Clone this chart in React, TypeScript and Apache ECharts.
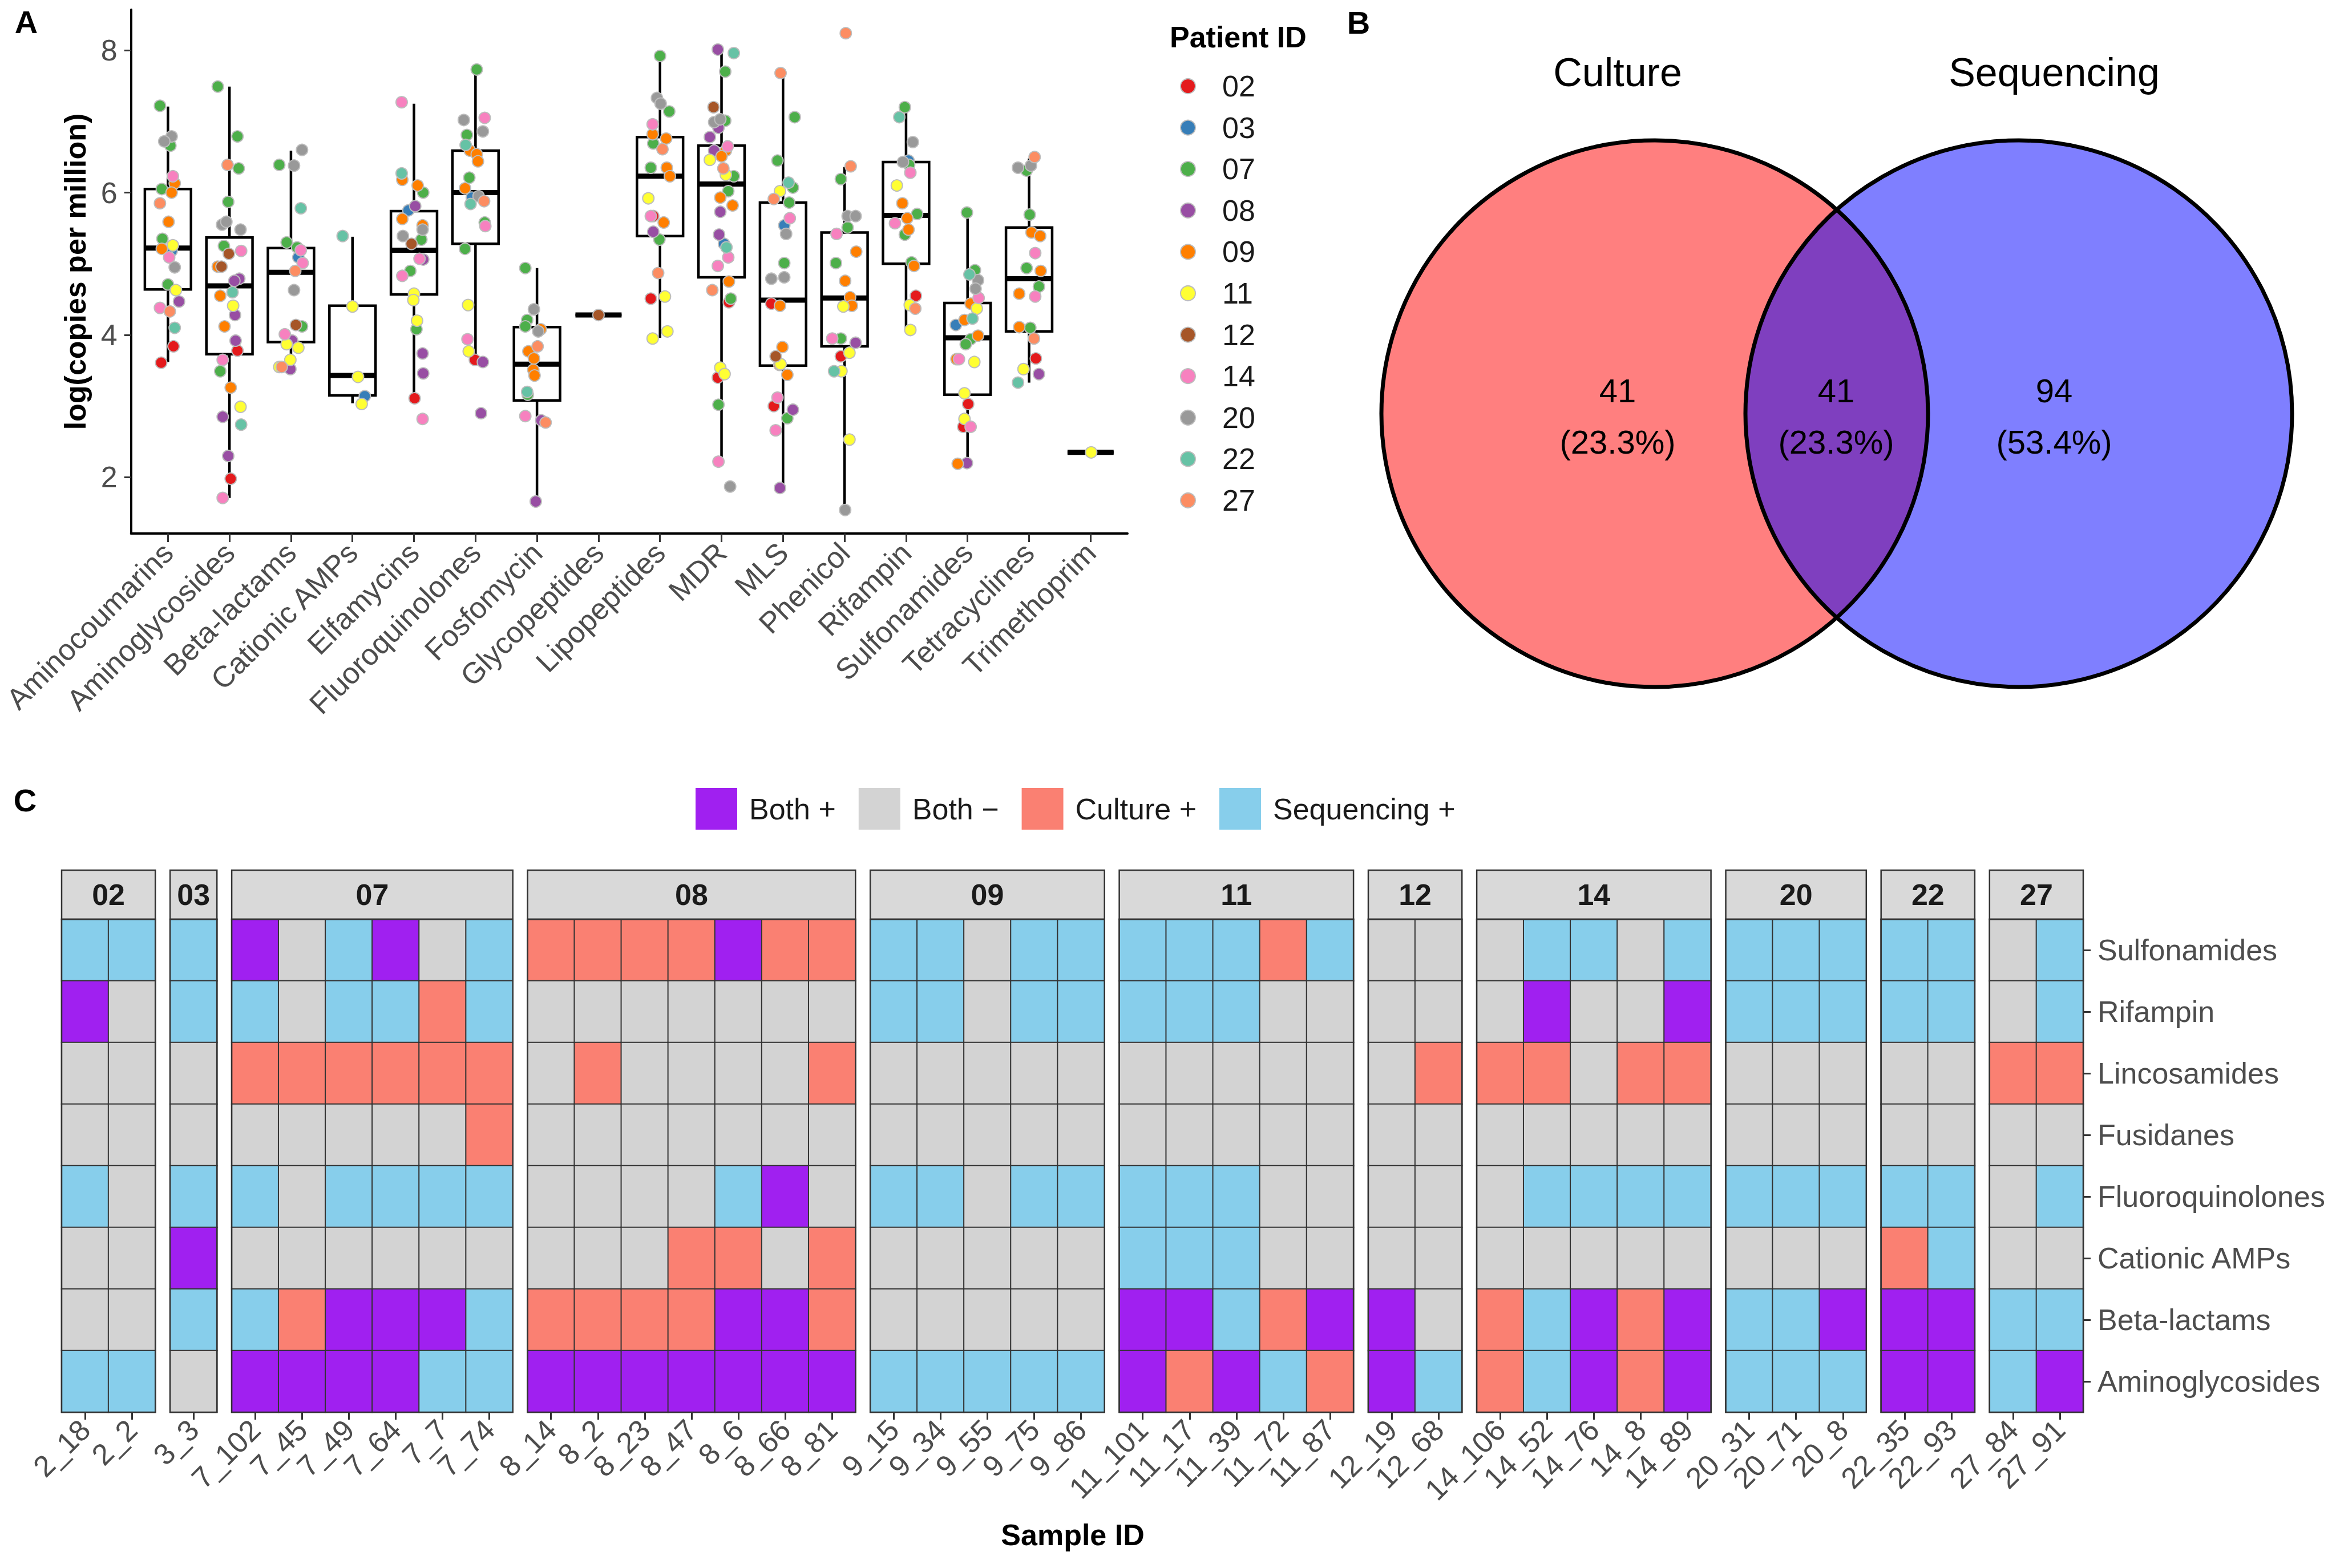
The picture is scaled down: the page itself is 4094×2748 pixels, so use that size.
import React, { useEffect, useRef } from "react";
import * as echarts from "echarts";

const W = 4094;
const H = 2748;
const FONT = "'Liberation Sans', Arial, Helvetica, sans-serif";

// ---------- Panel A data ----------
const DRUG_CLASSES = [
  "Aminocoumarins", "Aminoglycosides", "Beta-lactams", "Cationic AMPs", "Elfamycins",
  "Fluoroquinolones", "Fosfomycin", "Glycopeptides", "Lipopeptides", "MDR", "MLS",
  "Phenicol", "Rifampin", "Sulfonamides", "Tetracyclines", "Trimethoprim",
];
const Y_TICKS = [2, 4, 6, 8];
const PATIENTS = ["02", "03", "07", "08", "09", "11", "12", "14", "20", "22", "27"];
const PATIENT_COLORS = [
  "#E41A1C", "#377EB8", "#4DAF4A", "#984EA3", "#FF7F00", "#FFFF33",
  "#A65628", "#F781BF", "#999999", "#66C2A5", "#FC8D62",
];
// [min, q1, median, q3, max] per drug class
const BOX_STATS = [
  [3.62, 4.64, 5.22, 6.05, 7.21],
  [1.71, 3.73, 4.69, 5.37, 7.49],
  [3.54, 3.90, 4.88, 5.22, 6.59],
  [3.04, 3.15, 3.43, 4.41, 5.38],
  [3.10, 4.57, 5.19, 5.74, 7.25],
  [3.66, 5.28, 6.00, 6.59, 7.72],
  [1.67, 3.08, 3.59, 4.11, 4.94],
  [4.28, 4.28, 4.28, 4.28, 4.28],
  [3.96, 5.39, 6.23, 6.78, 7.91],
  [2.23, 4.81, 6.12, 6.66, 8.00],
  [1.85, 3.57, 4.49, 5.86, 7.67],
  [1.55, 3.84, 4.52, 5.44, 6.36],
  [4.08, 5.00, 5.68, 6.43, 7.18],
  [2.20, 3.16, 3.96, 4.45, 5.71],
  [3.33, 4.05, 4.79, 5.51, 6.48],
  [2.35, 2.35, 2.35, 2.35, 2.35],
];
// [class index, patient, log(copies per million), horizontal jitter]
const POINTS: [number, string, number, number][] = [
  [0,"07",7.22,-0.13],[0,"20",6.79,0.06],[0,"20",6.72,-0.06],[0,"07",6.66,0.04],[0,"14",6.23,0.08],[0,"09",6.13,0.11],[0,"07",6.05,-0.10],[0,"09",6.00,0.06],[0,"27",5.85,-0.13],[0,"09",5.59,0.01],[0,"07",5.35,-0.09],[0,"11",5.26,0.08],[0,"09",5.21,-0.10],[0,"03",5.18,0.06],[0,"14",5.09,0.02],[0,"20",4.95,0.11],[0,"07",4.71,0],[0,"11",4.63,0.13],[0,"08",4.47,0.18],[0,"14",4.38,-0.13],[0,"27",4.33,0.03],[0,"22",4.10,0.11],[0,"02",3.84,0.09],[0,"02",3.61,-0.11],
  [1,"07",7.49,-0.19],[1,"07",6.79,0.13],[1,"27",6.39,-0.03],[1,"07",6.34,0.15],[1,"07",5.87,-0.02],[1,"20",5.55,-0.12],[1,"20",5.59,-0.05],[1,"20",5.48,0.18],[1,"07",5.25,-0.09],[1,"12",5.14,-0.01],[1,"14",5.18,0.19],[1,"09",4.96,-0.19],[1,"12",4.96,-0.13],[1,"08",4.79,0.16],[1,"08",4.76,0.08],[1,"22",4.60,0.05],[1,"09",4.55,-0.15],[1,"11",4.41,0.06],[1,"08",4.28,0.09],[1,"09",4.12,-0.08],[1,"08",3.92,0.10],[1,"02",3.78,0.13],[1,"14",3.65,-0.11],[1,"07",3.49,-0.15],[1,"09",3.26,0.02],[1,"11",2.99,0.18],[1,"08",2.85,-0.11],[1,"22",2.74,0.19],[1,"08",2.30,-0.02],[1,"02",1.98,0.02],[1,"14",1.71,-0.11],
  [2,"20",6.60,0.18],[2,"07",6.39,-0.19],[2,"20",6.38,0.05],[2,"22",5.78,0.16],[2,"07",5.30,-0.07],[2,"07",5.23,0.10],[2,"14",5.19,0.16],[2,"03",5.09,0.12],[2,"14",5.01,0.19],[2,"27",4.90,0.07],[2,"20",4.63,0.05],[2,"12",4.14,0.08],[2,"07",4.12,0.18],[2,"14",4.01,-0.10],[2,"08",3.92,0.02],[2,"11",3.87,-0.07],[2,"11",3.82,0.12],[2,"11",3.65,-0.01],[2,"27",3.55,-0.15],[2,"11",3.55,-0.19],[2,"08",3.52,-0.01],
  [3,"22",5.39,-0.16],[3,"11",4.40,0],[3,"11",3.41,0.09],[3,"03",3.14,0.20],[3,"11",3.03,0.15],
  [4,"14",7.27,-0.20],[4,"22",6.27,-0.20],[4,"09",6.18,-0.19],[4,"09",6.10,0.06],[4,"07",6.00,0.15],[4,"08",5.81,0.02],[4,"03",5.75,-0.09],[4,"09",5.63,-0.19],[4,"09",5.54,0.14],[4,"20",5.48,0.14],[4,"20",5.39,-0.18],[4,"07",5.34,0.12],[4,"12",5.28,-0.04],[4,"14",5.07,0.09],[4,"08",5.06,0.15],[4,"07",4.90,-0.06],[4,"14",4.83,-0.19],[4,"11",4.58,0],[4,"11",4.49,-0.01],[4,"11",4.20,0.05],[4,"07",4.08,0.04],[4,"08",3.74,0.14],[4,"08",3.46,0.15],[4,"02",3.11,0.01],[4,"14",2.82,0.14],
  [5,"07",7.73,0.02],[5,"20",7.02,-0.19],[5,"14",7.05,0.15],[5,"20",6.86,0.12],[5,"07",6.81,-0.14],[5,"22",6.67,-0.16],[5,"09",6.59,-0.09],[5,"09",6.54,0.02],[5,"09",6.44,0.04],[5,"07",6.21,-0.10],[5,"09",6.06,-0.17],[5,"03",5.93,-0.06],[5,"20",5.95,0.05],[5,"27",5.88,0.14],[5,"22",5.84,-0.08],[5,"07",5.58,0.15],[5,"14",5.53,0.16],[5,"07",5.21,-0.17],[5,"11",4.42,-0.12],[5,"14",3.94,-0.13],[5,"11",3.77,-0.11],[5,"02",3.65,-0.01],[5,"08",3.62,0.12],[5,"08",2.90,0.09],
  [6,"07",4.94,-0.19],[6,"20",4.36,-0.05],[6,"07",4.21,-0.16],[6,"07",4.12,-0.19],[6,"09",4.08,0.06],[6,"20",4.05,0.02],[6,"27",3.84,0.01],[6,"09",3.77,-0.14],[6,"09",3.67,-0.05],[6,"09",3.51,-0.06],[6,"09",3.43,-0.04],[6,"22",3.20,-0.16],[6,"07",3.16,-0.15],[6,"14",2.86,-0.19],[6,"08",2.80,0.07],[6,"27",2.77,0.14],[6,"08",1.66,-0.02],
  [7,"12",4.28,0],
  [8,"07",7.92,0],[8,"20",7.33,-0.05],[8,"20",7.25,0.01],[8,"07",7.14,0.15],[8,"14",6.96,-0.12],[8,"09",6.82,-0.12],[8,"09",6.76,0.10],[8,"07",6.69,-0.11],[8,"27",6.61,0.04],[8,"07",6.35,-0.15],[8,"09",6.35,0.11],[8,"09",6.23,0.16],[8,"11",5.92,-0.19],[8,"14",5.67,-0.15],[8,"02",5.67,-0.11],[8,"09",5.58,0.06],[8,"08",5.45,-0.11],[8,"07",5.34,-0.01],[8,"27",4.87,-0.03],[8,"02",4.51,-0.15],[8,"11",4.54,0.08],[8,"11",4.05,0.12],[8,"11",3.95,-0.12],
  [9,"08",8.01,-0.06],[9,"22",7.96,0.20],[9,"07",7.70,0.06],[9,"12",7.20,-0.13],[9,"20",6.99,-0.12],[9,"20",7.03,-0.02],[9,"07",7.01,0.06],[9,"08",6.91,-0.05],[9,"08",6.78,-0.19],[9,"08",6.59,-0.12],[9,"09",6.59,0.07],[9,"09",6.51,0],[9,"11",6.46,-0.19],[9,"14",6.65,0.10],[9,"27",6.34,0.03],[9,"11",6.25,0.07],[9,"07",6.23,0.20],[9,"07",6.02,0.11],[9,"09",5.93,-0.02],[9,"09",5.82,0.18],[9,"08",5.73,-0.02],[9,"08",5.41,-0.04],[9,"03",5.28,0.04],[9,"22",5.23,0.08],[9,"14",5.09,0.11],[9,"14",4.97,-0.06],[9,"09",4.75,0.12],[9,"27",4.63,-0.15],[9,"07",4.51,0.15],[9,"02",4.46,0.12],[9,"11",3.54,-0.02],[9,"11",3.45,0.05],[9,"02",3.40,-0.06],[9,"07",3.02,-0.05],[9,"14",2.22,-0.05],[9,"20",1.87,0.14],
  [10,"27",7.68,-0.04],[10,"07",7.06,0.19],[10,"07",6.45,-0.09],[10,"22",6.14,0.09],[10,"07",6.07,0.16],[10,"11",6.02,-0.05],[10,"27",5.91,-0.15],[10,"07",5.86,0.10],[10,"14",5.64,0.11],[10,"03",5.54,0.02],[10,"20",5.42,0.05],[10,"07",5.01,0.02],[10,"20",4.79,-0.19],[10,"20",4.81,0.02],[10,"02",4.44,-0.19],[10,"09",4.41,-0.05],[10,"09",3.83,-0.01],[10,"12",3.70,-0.12],[10,"11",3.59,-0.04],[10,"09",3.58,-0.06],[10,"09",3.44,0.07],[10,"14",3.12,-0.09],[10,"02",3.00,-0.15],[10,"08",2.95,0.16],[10,"07",2.83,0.07],[10,"14",2.66,-0.12],[10,"08",1.85,-0.05],
  [11,"27",8.24,0.02],[11,"27",6.37,0.10],[11,"07",6.19,-0.06],[11,"20",5.67,0.05],[11,"20",5.67,0.18],[11,"07",5.51,0.05],[11,"14",5.42,-0.13],[11,"09",5.17,0.19],[11,"07",5.01,-0.14],[11,"09",4.76,0.01],[11,"09",4.53,0.09],[11,"11",4.40,-0.02],[11,"09",4.41,0.12],[11,"14",3.95,-0.20],[11,"07",3.95,-0.06],[11,"08",3.89,0.18],[11,"11",3.75,0.08],[11,"02",3.70,-0.06],[11,"22",3.49,-0.17],[11,"11",3.49,-0.05],[11,"11",2.53,0.08],[11,"20",1.54,0.01],
  [12,"07",7.20,-0.02],[12,"22",7.06,-0.11],[12,"20",6.71,0.11],[12,"20",6.43,-0.05],[12,"03",6.45,0.04],[12,"07",6.39,0.05],[12,"14",6.28,0.07],[12,"11",6.10,-0.15],[12,"09",5.85,-0.06],[12,"07",5.70,0.18],[12,"09",5.64,0.02],[12,"14",5.57,-0.18],[12,"09",5.48,0.04],[12,"07",5.41,-0.02],[12,"07",5.02,0.09],[12,"09",4.97,0.13],[12,"02",4.55,0.16],[12,"11",4.42,0.06],[12,"27",4.37,0.15],[12,"11",4.07,0.07],
  [13,"07",5.72,-0.01],[13,"07",4.91,0.12],[13,"22",4.85,0.03],[13,"20",4.77,0.17],[13,"20",4.65,0.13],[13,"14",4.52,0.18],[13,"09",4.44,0.05],[13,"11",4.37,0.15],[13,"22",4.23,0.08],[13,"09",4.21,-0.05],[13,"03",4.14,-0.19],[13,"09",3.99,0.17],[13,"07",3.94,0.05],[13,"07",3.87,-0.03],[13,"09",3.66,-0.18],[13,"14",3.66,-0.14],[13,"11",3.62,0.11],[13,"11",3.18,-0.05],[13,"02",3.03,0.01],[13,"11",2.82,-0.05],[13,"02",2.71,-0.07],[13,"14",2.71,0.05],[13,"09",2.19,-0.16],[13,"08",2.20,-0.01],
  [14,"27",6.50,0.09],[14,"20",6.35,-0.18],[14,"20",6.38,0.03],[14,"07",6.31,-0.04],[14,"07",5.69,0.01],[14,"09",5.44,0.04],[14,"09",5.39,0.18],[14,"14",5.15,0.10],[14,"07",4.94,-0.04],[14,"09",4.90,0.19],[14,"07",4.68,0.16],[14,"09",4.58,-0.16],[14,"14",4.54,0.10],[14,"09",4.11,-0.16],[14,"07",4.10,0.02],[14,"27",3.95,0.08],[14,"02",3.67,0.11],[14,"11",3.52,-0.09],[14,"08",3.45,0.16],[14,"22",3.33,-0.18],
  [15,"11",2.35,0.01],
];

// ---------- Panel B data ----------
const VENN_SETS = ["Culture", "Sequencing"];
const VENN_COUNTS = [41, 41, 94]; // culture only, both, sequencing only

// ---------- Panel C data ----------
const RESIST_CLASSES = [
  "Sulfonamides", "Rifampin", "Lincosamides", "Fusidanes",
  "Fluoroquinolones", "Cationic AMPs", "Beta-lactams", "Aminoglycosides",
];
const STATUS_CODES = ["B", "N", "C", "S"];
const STATUS_LABELS = ["Both +", "Both \u2212", "Culture +", "Sequencing +"];
const STATUS_COLORS = ["#A020F0", "#D3D3D3", "#FA8072", "#87CEEB"];
const FACET_PATIENTS = ["02", "03", "07", "08", "09", "11", "12", "14", "20", "22", "27"];
const FACET_SAMPLES = [
  ["2_18", "2_2"],
  ["3_3"],
  ["7_102", "7_45", "7_49", "7_64", "7_7", "7_74"],
  ["8_14", "8_2", "8_23", "8_47", "8_6", "8_66", "8_81"],
  ["9_15", "9_34", "9_55", "9_75", "9_86"],
  ["11_101", "11_17", "11_39", "11_72", "11_87"],
  ["12_19", "12_68"],
  ["14_106", "14_52", "14_76", "14_8", "14_89"],
  ["20_31", "20_71", "20_8"],
  ["22_35", "22_93"],
  ["27_84", "27_91"],
];
// one string per sample, rows top to bottom as in RESIST_CLASSES
const FACET_CALLS = [
  ["SBNNSNNS", "SNNNNNNS"],
  ["SSNNSBSN"],
  ["BSCNSNSB", "NNCNNNCB", "SSCNSNBB", "BSCNSNBB", "NCCNSNBS", "SSCCSNSS"],
  ["CNNNNNCB", "CNCNNNCB", "CNNNNNCB", "CNNNNCCB", "BNNNSCBB", "CNNNBNBB", "CNCNNCCB"],
  ["SSNNSNNS", "SSNNSNNS", "NNNNNNNS", "SSNNSNNS", "SSNNSNNS"],
  ["SSNNSSBB", "SSNNSSBC", "SSNNSSSB", "CNNNNNCS", "SNNNNNBC"],
  ["NNNNNNBB", "NNCNNNNS"],
  ["NNCNNNCC", "SBCNSNSS", "SNNNSNBB", "NNCNSNCC", "SBCNSNBB"],
  ["SSNNSNSS", "SSNNSNSS", "SSNNSNBS"],
  ["SSNNSCBB", "SSNNSSBB"],
  ["NNCNNNSS", "SSCNSNSB"],
];

// ---------- layout ----------
const A_LEFT = 219, A_TOP = 17, A_W = 1757, A_H = 918;
const BOX_WIDTH = 0.75;
const HM_LEFT = 108, HM_TOP = 1611, HM_H = 864, CELL_W = 82.1, FACET_GAP = 25.9, STRIP_H = 86;
const VENN_R = 479, VENN_CY = 725, VENN_CX = [2900, 3538];

function buildOption() {
  const grids: any[] = [{ left: A_LEFT, top: A_TOP, width: A_W, height: A_H }];
  const xAxes: any[] = [{
    gridIndex: 0, type: "value", min: -0.6, max: 15.6,
    axisLine: { show: true, onZero: false, lineStyle: { color: "#000", width: 4 } },
    axisTick: { show: true, length: 15, lineStyle: { color: "#333", width: 3 }, customValues: DRUG_CLASSES.map((_, i) => i) },
    axisLabel: {
      customValues: DRUG_CLASSES.map((_, i) => i),
      formatter: (v: number) => DRUG_CLASSES[Math.round(v)] ?? "",
      rotate: 45, fontSize: 52, color: "#4D4D4D", fontFamily: FONT, margin: 25,
    },
    splitLine: { show: false },
  }];
  const yAxes: any[] = [{
    gridIndex: 0, type: "value", min: 1.21, max: 8.57,
    name: "log(copies per million)", nameLocation: "middle", nameGap: 72, nameRotate: 90,
    nameTextStyle: { fontSize: 52, fontWeight: "bold", color: "#000", fontFamily: FONT },
    axisLine: { show: true, onZero: false, lineStyle: { color: "#000", width: 4 } },
    axisTick: { show: true, length: 12, lineStyle: { color: "#333", width: 3 }, customValues: Y_TICKS },
    axisLabel: { customValues: Y_TICKS, fontSize: 52, color: "#4D4D4D", fontFamily: FONT, margin: 24 },
    splitLine: { show: false },
  }];

  const series: any[] = [];
  series.push({
    type: "custom",
    xAxisIndex: 0, yAxisIndex: 0, z: 2,
    data: BOX_STATS.map((s, i) => [i, ...s]),
    encode: { x: 0, y: [1, 2, 3, 4, 5] },
    renderItem: (_p: any, api: any) => {
      const xv = api.value(0);
      const lo = api.coord([xv, api.value(1)]);
      const q1 = api.coord([xv, api.value(2)]);
      const md = api.coord([xv, api.value(3)]);
      const q3 = api.coord([xv, api.value(4)]);
      const hi = api.coord([xv, api.value(5)]);
      const half = api.size([BOX_WIDTH, 0])[0] / 2;
      const cx = lo[0];
      const st = { stroke: "#000", lineWidth: 4.5, fill: "none" };
      return {
        type: "group",
        children: [
          { type: "line", shape: { x1: cx, y1: q3[1], x2: cx, y2: hi[1] }, style: st },
          { type: "line", shape: { x1: cx, y1: q1[1], x2: cx, y2: lo[1] }, style: st },
          { type: "rect", shape: { x: cx - half, y: q3[1], width: 2 * half, height: q1[1] - q3[1] }, style: st },
          { type: "line", shape: { x1: cx - half, y1: md[1], x2: cx + half, y2: md[1] }, style: { stroke: "#000", lineWidth: 9 } },
        ],
      };
    },
  });
  PATIENTS.forEach((pid, pi) => {
    series.push({
      type: "scatter", name: pid, xAxisIndex: 0, yAxisIndex: 0, z: 3,
      symbol: "circle", symbolSize: 20,
      itemStyle: { color: PATIENT_COLORS[pi], borderColor: "#BDBDBD", borderWidth: 2, opacity: 1 },
      emphasis: { disabled: true },
      data: POINTS.filter((p) => p[1] === pid).map((p) => [p[0] + p[3], p[2]]),
    });
  });

  const graphic: any[] = [];
  const heatIdx: number[] = [];
  let x = HM_LEFT;
  FACET_SAMPLES.forEach((samples, fi) => {
    const w = samples.length * CELL_W;
    const gi = fi + 1;
    grids.push({ left: x, top: HM_TOP, width: w, height: HM_H });
    xAxes.push({
      gridIndex: gi, type: "category", data: samples,
      axisLine: { show: false },
      axisTick: { show: true, alignWithLabel: true, length: 13, lineStyle: { color: "#333", width: 3 } },
      axisLabel: { interval: 0, rotate: 45, fontSize: 52, color: "#4D4D4D", fontFamily: FONT, margin: 22 },
      splitLine: { show: false },
    });
    const last = fi === FACET_SAMPLES.length - 1;
    yAxes.push({
      gridIndex: gi, type: "category", data: RESIST_CLASSES, inverse: true,
      show: last, position: "right",
      axisLine: { show: false },
      axisTick: { show: true, alignWithLabel: true, length: 13, lineStyle: { color: "#333", width: 3 } },
      axisLabel: { fontSize: 52, color: "#4D4D4D", fontFamily: FONT, margin: 25 },
      splitLine: { show: false },
    });
    heatIdx.push(series.length);
    series.push({
      type: "heatmap", xAxisIndex: gi, yAxisIndex: gi,
      itemStyle: { borderColor: "#333", borderWidth: 2 },
      emphasis: { disabled: true },
      data: samples.flatMap((_, ci) =>
        FACET_CALLS[fi][ci].split("").map((code, ri) => [ci, ri, STATUS_CODES.indexOf(code)])
      ),
    });
    // strip + panel border
    graphic.push({
      type: "rect", z: 100,
      shape: { x, y: HM_TOP - STRIP_H, width: w, height: STRIP_H },
      style: { fill: "#D9D9D9", stroke: "#333", lineWidth: 2.5 },
    });
    graphic.push({
      type: "text", z: 101, x: x + w / 2, y: HM_TOP - STRIP_H / 2,
      style: { text: FACET_PATIENTS[fi], fontSize: 52, fontWeight: "bold", fill: "#1A1A1A", fontFamily: FONT, align: "center", verticalAlign: "middle" },
    });
    graphic.push({
      type: "rect", z: 100,
      shape: { x, y: HM_TOP, width: w, height: HM_H },
      style: { fill: "none", stroke: "#333", lineWidth: 2.5 },
    });
    x += w + FACET_GAP;
  });

  // panel letters
  [["A", 46, 38], ["B", 2381, 39], ["C", 44, 1402]].forEach(([t, px, py]) => {
    graphic.push({
      type: "text", x: px, y: py, z: 100,
      style: { text: t, fontSize: 56, fontWeight: "bold", fill: "#000", fontFamily: FONT, align: "center", verticalAlign: "middle" },
    });
  });
  // legend title panel A
  graphic.push({
    type: "text", x: 2050, y: 65, z: 100,
    style: { text: "Patient ID", fontSize: 52, fontWeight: "bold", fill: "#000", fontFamily: FONT, align: "left", verticalAlign: "middle" },
  });
  // x title panel C
  graphic.push({
    type: "text", x: 1880, y: 2690, z: 100,
    style: { text: "Sample ID", fontSize: 52, fontWeight: "bold", fill: "#000", fontFamily: FONT, align: "center", verticalAlign: "middle" },
  });

  // Venn diagram
  const total = VENN_COUNTS.reduce((a, b) => a + b, 0);
  const fills = ["rgba(255,0,0,0.5)", "rgba(0,0,255,0.5)"];
  VENN_CX.forEach((cx, i) => {
    graphic.push({ type: "circle", z: 10, shape: { cx, cy: VENN_CY, r: VENN_R }, style: { fill: fills[i] } });
  });
  VENN_CX.forEach((cx) => {
    graphic.push({ type: "circle", z: 11, shape: { cx, cy: VENN_CY, r: VENN_R }, style: { fill: "none", stroke: "#000", lineWidth: 7 } });
  });
  const labelX = [2835, 3218, 3600];
  VENN_SETS.forEach((name, i) => {
    graphic.push({
      type: "text", x: labelX[i * 2], y: 127, z: 12,
      style: { text: name, fontSize: 70, fill: "#000", fontFamily: FONT, align: "center", verticalAlign: "middle" },
    });
  });
  VENN_COUNTS.forEach((c, i) => {
    graphic.push({
      type: "text", x: labelX[i], y: 684, z: 12,
      style: { text: String(c), fontSize: 58, fill: "#000", fontFamily: FONT, align: "center", verticalAlign: "middle" },
    });
    graphic.push({
      type: "text", x: labelX[i], y: 774, z: 12,
      style: { text: `(${((c / total) * 100).toFixed(1)}%)`, fontSize: 58, fill: "#000", fontFamily: FONT, align: "center", verticalAlign: "middle" },
    });
  });

  return {
    animation: false,
    backgroundColor: "#fff",
    grid: grids,
    xAxis: xAxes,
    yAxis: yAxes,
    legend: {
      data: PATIENTS, orient: "vertical", left: 2068, top: 125, padding: 0,
      itemWidth: 26, itemHeight: 26, itemGap: 20.6, icon: "circle", selectedMode: false,
      textStyle: { fontSize: 52, lineHeight: 52, color: "#1A1A1A", fontFamily: FONT, padding: [0, 0, 0, 42] },
    },
    visualMap: {
      type: "piecewise", dimension: 2, seriesIndex: heatIdx,
      pieces: STATUS_LABELS.map((label, i) => ({ value: i, label, color: STATUS_COLORS[i] })),
      orient: "horizontal", left: 1219, top: 1381, padding: 0,
      itemWidth: 73, itemHeight: 73, itemGap: 40, textGap: 21, itemSymbol: "rect",
      align: "left", selectedMode: false, hoverLink: false,
      textStyle: { fontSize: 52, color: "#1A1A1A", fontFamily: FONT },
    },
    graphic,
    series,
  };
}

export default function App() {
  const ref = useRef<HTMLDivElement>(null);
  useEffect(() => {
    document.body.style.margin = "0";
    if (!ref.current) return;
    const chart = echarts.init(ref.current, null, { renderer: "svg", width: W, height: H });
    chart.setOption(buildOption() as any);
    return () => chart.dispose();
  }, []);
  return <div ref={ref} style={{ width: W, height: H, background: "#fff" }} />;
}
